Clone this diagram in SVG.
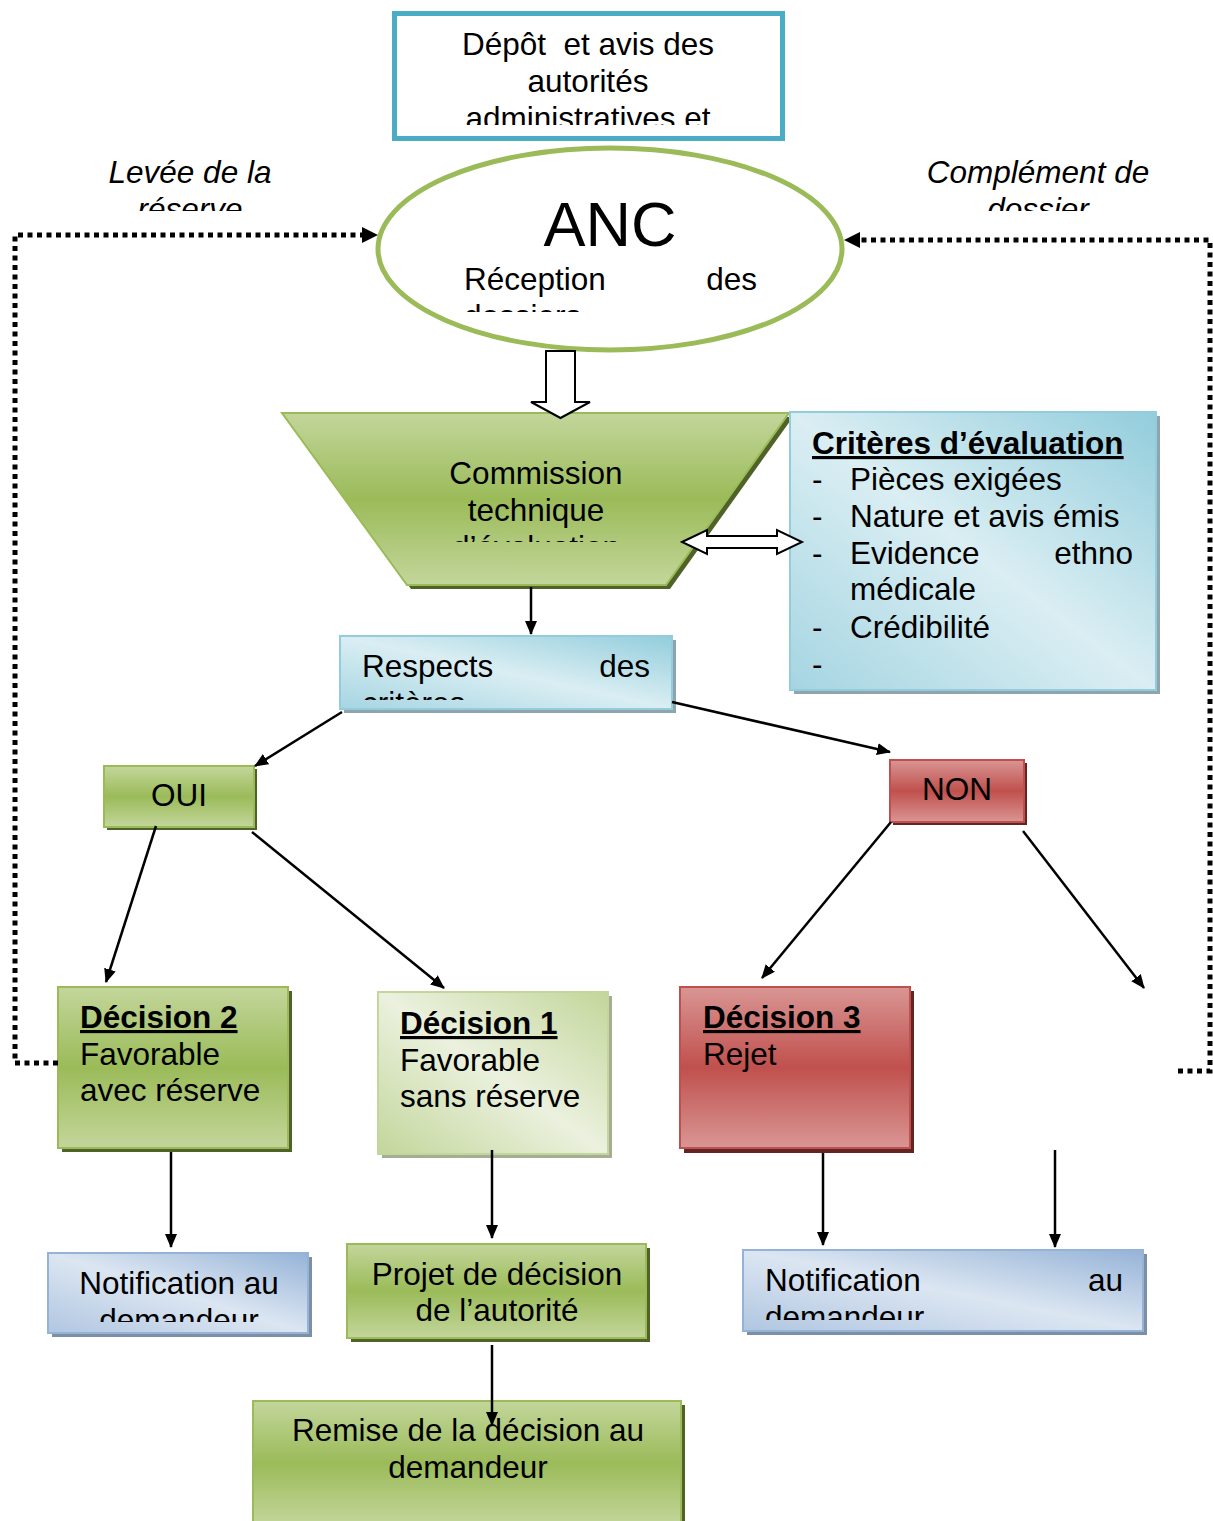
<svg xmlns="http://www.w3.org/2000/svg" width="1213" height="1521" viewBox="0 0 1213 1521">
  <defs>
    <style>
      text { font-family: "Liberation Sans", Arial, sans-serif; font-size: 31.5px; fill: #000; }
      .c { text-anchor: middle; }
      .e { text-anchor: end; }
      .b { font-weight: bold; text-decoration: underline; }
      .i { font-style: italic; }
      .link { stroke: #000; stroke-width: 2.5; fill: none; marker-end: url(#head); }
      .dot { stroke: #000; stroke-width: 5; fill: none; stroke-dasharray: 5 4.5; }
      .green { fill: url(#gGreen); stroke: #9BBB59; stroke-width: 2; }
      .gshadow { fill: #4F6228; }
      .blueshadow { fill: #8FA4AD; }
      .navyshadow { fill: #7D8FA5; }
    </style>
    <linearGradient id="gGreen" x1="0" y1="0" x2="0" y2="1">
      <stop offset="0" stop-color="#C3D69B"/>
      <stop offset="0.5" stop-color="#9BBB59"/>
      <stop offset="1" stop-color="#C3D69B"/>
    </linearGradient>
    <linearGradient id="gGreenPale" x1="1" y1="0" x2="0" y2="1">
      <stop offset="0" stop-color="#C3D69B"/>
      <stop offset="0.5" stop-color="#EBF1DE"/>
      <stop offset="1" stop-color="#C3D69B"/>
    </linearGradient>
    <linearGradient id="gAqua" x1="1" y1="0" x2="0" y2="1">
      <stop offset="0" stop-color="#92CDDC"/>
      <stop offset="0.5" stop-color="#DAEEF3"/>
      <stop offset="1" stop-color="#A5D5E2"/>
    </linearGradient>
    <linearGradient id="gNavy" x1="1" y1="0" x2="0" y2="1">
      <stop offset="0" stop-color="#95B3D7"/>
      <stop offset="0.5" stop-color="#DCE6F2"/>
      <stop offset="1" stop-color="#B0C6E1"/>
    </linearGradient>
    <linearGradient id="gRed" x1="0" y1="0" x2="0" y2="1">
      <stop offset="0" stop-color="#D99694"/>
      <stop offset="0.5" stop-color="#C0504D"/>
      <stop offset="1" stop-color="#D99694"/>
    </linearGradient>
    <marker id="head" markerUnits="userSpaceOnUse" markerWidth="14" markerHeight="12" refX="13" refY="6" orient="auto">
      <path d="M0,0 L14,6 L0,12 z" fill="#000"/>
    </marker>
    <clipPath id="clipDepot"><rect x="396" y="15" width="384" height="110"/></clipPath>
    <clipPath id="clipLevee"><rect x="60" y="150" width="260" height="61"/></clipPath>
    <clipPath id="clipCompl"><rect x="900" y="150" width="280" height="61"/></clipPath>
    <clipPath id="clipAnc"><rect x="380" y="180" width="460" height="132"/></clipPath>
    <clipPath id="clipComm"><rect x="380" y="440" width="320" height="102"/></clipPath>
    <clipPath id="clipResp"><rect x="342" y="640" width="328" height="60"/></clipPath>
    <clipPath id="clipNotL"><rect x="50" y="1255" width="258" height="67"/></clipPath>
    <clipPath id="clipNotR"><rect x="745" y="1252" width="398" height="68"/></clipPath>
  </defs>

  <!-- Submission -->
  <g id="depot">
    <rect x="394.5" y="13.5" width="388" height="125" fill="#fff" stroke="#4BACC6" stroke-width="5"/>
    <g clip-path="url(#clipDepot)">
      <text class="c" x="588" y="55" xml:space="preserve">Dépôt  et avis des</text>
      <text class="c" x="588" y="92">autorités</text>
      <text class="c" x="588" y="129">administratives et</text>
    </g>
  </g>

  <!-- Loop-back labels -->
  <g id="label-levee" clip-path="url(#clipLevee)">
    <text class="c i" x="190" y="183">Levée de la</text>
    <text class="c i" x="190" y="220">réserve</text>
  </g>
  <g id="label-complement" clip-path="url(#clipCompl)">
    <text class="c i" x="1038" y="183">Complément de</text>
    <text class="c i" x="1038" y="220">dossier</text>
  </g>

  <!-- ANC reception -->
  <g id="anc">
    <ellipse cx="610" cy="249" rx="232" ry="101" fill="#fff" stroke="#9BBB59" stroke-width="5"/>
    <text class="c" x="610" y="246" style="font-size:63px">ANC</text>
    <g clip-path="url(#clipAnc)">
      <text x="464" y="290">Réception</text>
      <text class="e" x="757" y="290">des</text>
      <text x="464" y="327">dossiers</text>
    </g>
  </g>

  <!-- Technical commission (trapezoid) -->
  <g id="commission">
    <polygon points="286,417 793,417 670,589 411,589" class="gshadow"/>
    <polygon points="282,413 789,413 666,585 407,585" fill="url(#gGreen)" stroke="#9BBB59" stroke-width="2"/>
    <g clip-path="url(#clipComm)">
      <text class="c" x="536" y="484">Commission</text>
      <text class="c" x="536" y="521">technique</text>
      <text class="c" x="536" y="558">d’évaluation</text>
    </g>
  </g>

  <!-- Evaluation criteria -->
  <g id="criteres">
    <rect x="794" y="416" width="366" height="278" class="blueshadow"/>
    <rect x="790" y="412" width="366" height="278" fill="url(#gAqua)" stroke="#93CDDD" stroke-width="2"/>
    <text class="b" x="812" y="454">Critères d’évaluation</text>
    <text x="812" y="490">-</text><text x="850" y="490">Pièces exigées</text>
    <text x="812" y="527">-</text><text x="850" y="527">Nature et avis émis</text>
    <text x="812" y="564">-</text><text x="850" y="564">Evidence</text><text class="e" x="1133" y="564">ethno</text>
    <text x="850" y="600">médicale</text>
    <text x="812" y="638">-</text><text x="850" y="638">Crédibilité</text>
    <text x="812" y="675">-</text>
  </g>

  <!-- Compliance check -->
  <g id="respects">
    <rect x="344" y="640" width="332" height="73" class="blueshadow"/>
    <rect x="340" y="636" width="332" height="73" fill="url(#gAqua)" stroke="#93CDDD" stroke-width="2"/>
    <g clip-path="url(#clipResp)">
      <text x="362" y="677">Respects</text>
      <text class="e" x="650" y="677">des</text>
      <text x="362" y="714">critères</text>
    </g>
  </g>

  <!-- Yes / No -->
  <g id="oui">
    <rect x="107" y="769" width="150" height="61" class="gshadow"/>
    <rect x="104" y="766" width="150" height="61" class="green"/>
    <text class="c" x="179" y="806">OUI</text>
  </g>
  <g id="non">
    <rect x="893" y="763" width="134" height="62" fill="#632523"/>
    <rect x="890" y="760" width="134" height="62" fill="url(#gRed)" stroke="#C0504D" stroke-width="2"/>
    <text class="c" x="957" y="800">NON</text>
  </g>

  <!-- Decisions -->
  <g id="decision2">
    <rect x="62" y="991" width="230" height="161" class="gshadow"/>
    <rect x="58" y="987" width="230" height="161" class="green"/>
    <text class="b" x="80" y="1028">Décision 2</text>
    <text x="80" y="1065">Favorable</text>
    <text x="80" y="1101">avec réserve</text>
  </g>
  <g id="decision1">
    <rect x="382" y="996" width="230" height="162" fill="#A5AE93"/>
    <rect x="378" y="992" width="230" height="162" fill="url(#gGreenPale)" stroke="#C3D69B" stroke-width="2"/>
    <text class="b" x="400" y="1034">Décision 1</text>
    <text x="400" y="1071">Favorable</text>
    <text x="400" y="1107">sans réserve</text>
  </g>
  <g id="decision3">
    <rect x="684" y="991" width="230" height="162" fill="#632523"/>
    <rect x="680" y="987" width="230" height="161" fill="url(#gRed)" stroke="#C0504D" stroke-width="2"/>
    <text class="b" x="703" y="1028">Décision 3</text>
    <text x="703" y="1065">Rejet</text>
  </g>

  <!-- Outcomes -->
  <g id="notification-gauche">
    <rect x="52" y="1257" width="260" height="80" class="navyshadow"/>
    <rect x="48" y="1253" width="260" height="80" fill="url(#gNavy)" stroke="#95B3D7" stroke-width="2"/>
    <g clip-path="url(#clipNotL)">
      <text class="c" x="179" y="1294">Notification au</text>
      <text class="c" x="179" y="1331">demandeur</text>
    </g>
  </g>
  <g id="projet">
    <rect x="351" y="1248" width="299" height="94" class="gshadow"/>
    <rect x="347" y="1244" width="299" height="94" class="green"/>
    <text class="c" x="497" y="1285">Projet de décision</text>
    <text class="c" x="497" y="1321">de l’autorité</text>
  </g>
  <g id="notification-droite">
    <rect x="747" y="1254" width="400" height="81" class="navyshadow"/>
    <rect x="743" y="1250" width="400" height="81" fill="url(#gNavy)" stroke="#95B3D7" stroke-width="2"/>
    <g clip-path="url(#clipNotR)">
      <text x="765" y="1291">Notification</text>
      <text class="e" x="1123" y="1291">au</text>
      <text x="765" y="1328">demandeur</text>
    </g>
  </g>
  <g id="remise">
    <rect x="257" y="1405" width="428" height="120" class="gshadow"/>
    <rect x="253" y="1401" width="428" height="124" class="green"/>
    <text class="c" x="468" y="1441">Remise de la décision au</text>
    <text class="c" x="468" y="1478">demandeur</text>
  </g>

  <!-- Connectors -->
  <g id="connectors">
    <!-- hollow block arrow ANC -> commission -->
    <path d="M546,351 L575,351 L575,402 L590,402 L560.5,418 L531,402 L546,402 Z" fill="#fff" stroke="#000" stroke-width="2"/>
    <!-- hollow double arrow commission <-> criteria -->
    <path d="M682,542 L707,530 L707,536 L777,536 L777,530 L802,542 L777,554 L777,548 L707,548 L707,554 Z" fill="#fff" stroke="#000" stroke-width="2"/>

    <line class="link" x1="531" y1="587" x2="531" y2="634"/>
    <line class="link" x1="342" y1="712" x2="255" y2="766"/>
    <line class="link" x1="672" y1="702" x2="890" y2="752"/>
    <line class="link" x1="156" y1="826" x2="106" y2="982"/>
    <line class="link" x1="252" y1="832" x2="444" y2="988"/>
    <line class="link" x1="891" y1="822" x2="762" y2="978"/>
    <line class="link" x1="1023" y1="831" x2="1144" y2="988"/>

    <line class="link" x1="171" y1="1152" x2="171" y2="1247"/>
    <line class="link" x1="492" y1="1150" x2="492" y2="1238"/>
    <line class="link" x1="823" y1="1153" x2="823" y2="1245"/>
    <line class="link" x1="1055" y1="1150" x2="1055" y2="1247"/>
    <line class="link" x1="492" y1="1345" x2="492" y2="1425"/>

    <!-- dotted loop-backs to ANC -->
    <polyline class="dot" points="58,1063 15,1063 15,235 364,235"/>
    <path d="M362,227 L378,235 L362,243 Z" fill="#000"/>
    <polyline class="dot" points="1178,1071 1210,1071 1210,240 858,240"/>
    <path d="M860,232 L844,240 L860,248 Z" fill="#000"/>
  </g>
</svg>
